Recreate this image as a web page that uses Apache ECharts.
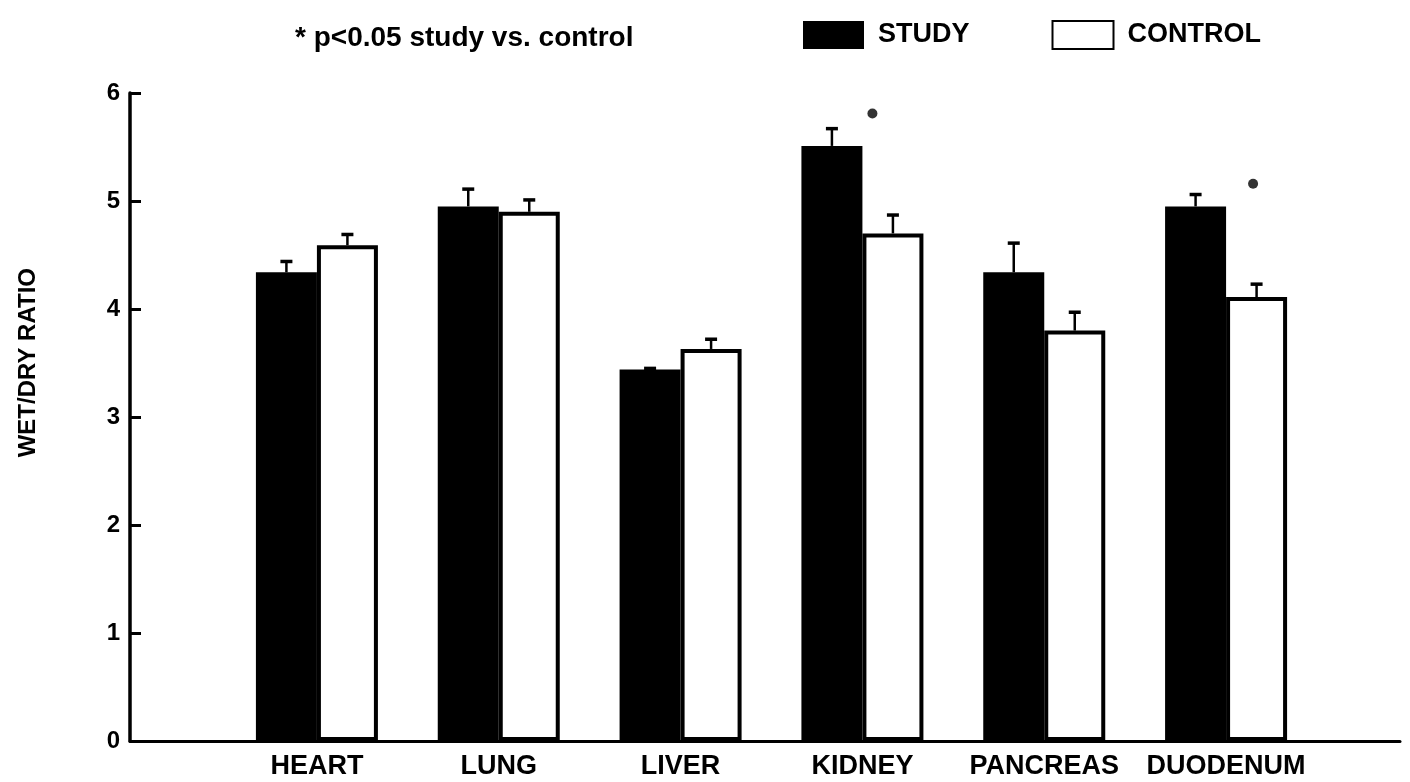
<!DOCTYPE html>
<html>
<head>
<meta charset="utf-8">
<script src="https://cdn.jsdelivr.net/npm/echarts@6/dist/echarts.min.js"></script>
<style>html,body{margin:0;padding:0;background:#fff;}#c{width:1410px;height:782px;}</style>
</head>
<body>
<div id="c"></div>
<script>
const categories = ['HEART', 'LUNG', 'LIVER', 'KIDNEY', 'PANCREAS', 'DUODENUM'];
const studyValues = [4.34, 4.95, 3.44, 5.51, 4.34, 4.95];
const studyUpper = [4.44, 5.11, 3.45, 5.67, 4.61, 5.06];
const controlValues = [4.59, 4.90, 3.63, 4.70, 3.80, 4.11];
const controlUpper = [4.69, 5.01, 3.72, 4.87, 3.97, 4.23];
const significant = [[3, 5.81], [5, 5.16]];
const yTicks = [0, 1, 2, 3, 4, 5, 6];

const FONT = 'Liberation Sans';
const BAR_W = 61;
const STAR_OFFSETS = [10, 27];

function errorSeries(name, vals, upper, offset) {
  return {
    name: name + ' SEM', type: 'custom', xAxisIndex: 1, yAxisIndex: 1, z: 5,
    data: categories.map((c, i) => [i, vals[i], upper[i]]),
    encode: { x: 0, y: [1, 2] },
    renderItem: function (params, api) {
      const base = api.coord([api.value(0), api.value(1)]);
      const top = api.coord([api.value(0), api.value(2)]);
      const x = base[0] + offset;
      return {
        type: 'group',
        children: [
          { type: 'line', shape: { x1: x, y1: base[1], x2: x, y2: top[1] }, style: { stroke: '#000', lineWidth: 2.5 } },
          { type: 'line', shape: { x1: x - 6, y1: top[1], x2: x + 6, y2: top[1] }, style: { stroke: '#000', lineWidth: 3.5 } }
        ]
      };
    }
  };
}

const chart = echarts.init(document.getElementById('c'));
chart.setOption({
  animation: false,
  backgroundColor: '#fff',
  title: {
    text: '* p<0.05 study vs. control',
    left: 290, top: 19,
    textStyle: { fontFamily: FONT, fontWeight: 'bold', fontSize: 28, color: '#000' }
  },
  legend: {
    data: ['STUDY', 'CONTROL'],
    left: 798, top: 15,
    itemWidth: 61, itemHeight: 28, itemGap: 82,
    icon: 'rect',
    textStyle: { fontFamily: FONT, fontWeight: 'bold', fontSize: 27, color: '#000', padding: [0, 0, 0, 9] }
  },
  graphic: [{
    type: 'text', left: 16, top: 268, rotation: Math.PI / 2,
    style: { text: 'WET/DRY RATIO', fontFamily: FONT, fontWeight: 'bold', fontSize: 24, fill: '#000' }
  }],
  grid: [
    { left: 130, right: 10, top: 93, bottom: 41 },
    { left: 226, right: 93, top: 93, bottom: 41 }
  ],
  xAxis: [
    { type: 'value', gridIndex: 0, min: 0, max: 1, axisLine: { show: true, lineStyle: { color: '#000', width: 3 } },
      axisTick: { show: false }, axisLabel: { show: false }, splitLine: { show: false } },
    { type: 'category', gridIndex: 1, data: categories, axisLine: { show: false }, axisTick: { show: false },
      axisLabel: { interval: 0, margin: 12, fontFamily: FONT, fontWeight: 'bold', fontSize: 27, color: '#000' } }
  ],
  yAxis: [
    { type: 'value', gridIndex: 0, min: yTicks[0], max: yTicks[yTicks.length - 1], interval: 1,
      axisLine: { show: true, lineStyle: { color: '#000', width: 3.5 } },
      axisTick: { show: true, inside: true, length: 11, lineStyle: { color: '#000', width: 3 } },
      axisLabel: { margin: 10, fontFamily: FONT, fontWeight: 'bold', fontSize: 24, color: '#000' },
      splitLine: { show: false } },
    { type: 'value', gridIndex: 1, min: yTicks[0], max: yTicks[yTicks.length - 1], interval: 1, show: false }
  ],
  series: [
    { name: 'STUDY', type: 'bar', xAxisIndex: 1, yAxisIndex: 1, data: studyValues,
      barWidth: BAR_W, barGap: '0%', itemStyle: { color: '#000' } },
    { name: 'CONTROL', type: 'bar', xAxisIndex: 1, yAxisIndex: 1, data: controlValues,
      barWidth: BAR_W, barGap: '0%', itemStyle: { color: '#fff', borderColor: '#000', borderWidth: 4 } },
    errorSeries('STUDY', studyValues, studyUpper, -BAR_W / 2),
    errorSeries('CONTROL', controlValues, controlUpper, BAR_W / 2),
    { name: 'significant', type: 'scatter', xAxisIndex: 1, yAxisIndex: 1,
      data: significant.map((p, i) => ({ value: p, symbolOffset: [STAR_OFFSETS[i], 0] })),
      symbol: 'circle', symbolSize: 10,
      itemStyle: { color: '#000' } }
  ]
});
</script>
</body>
</html>
